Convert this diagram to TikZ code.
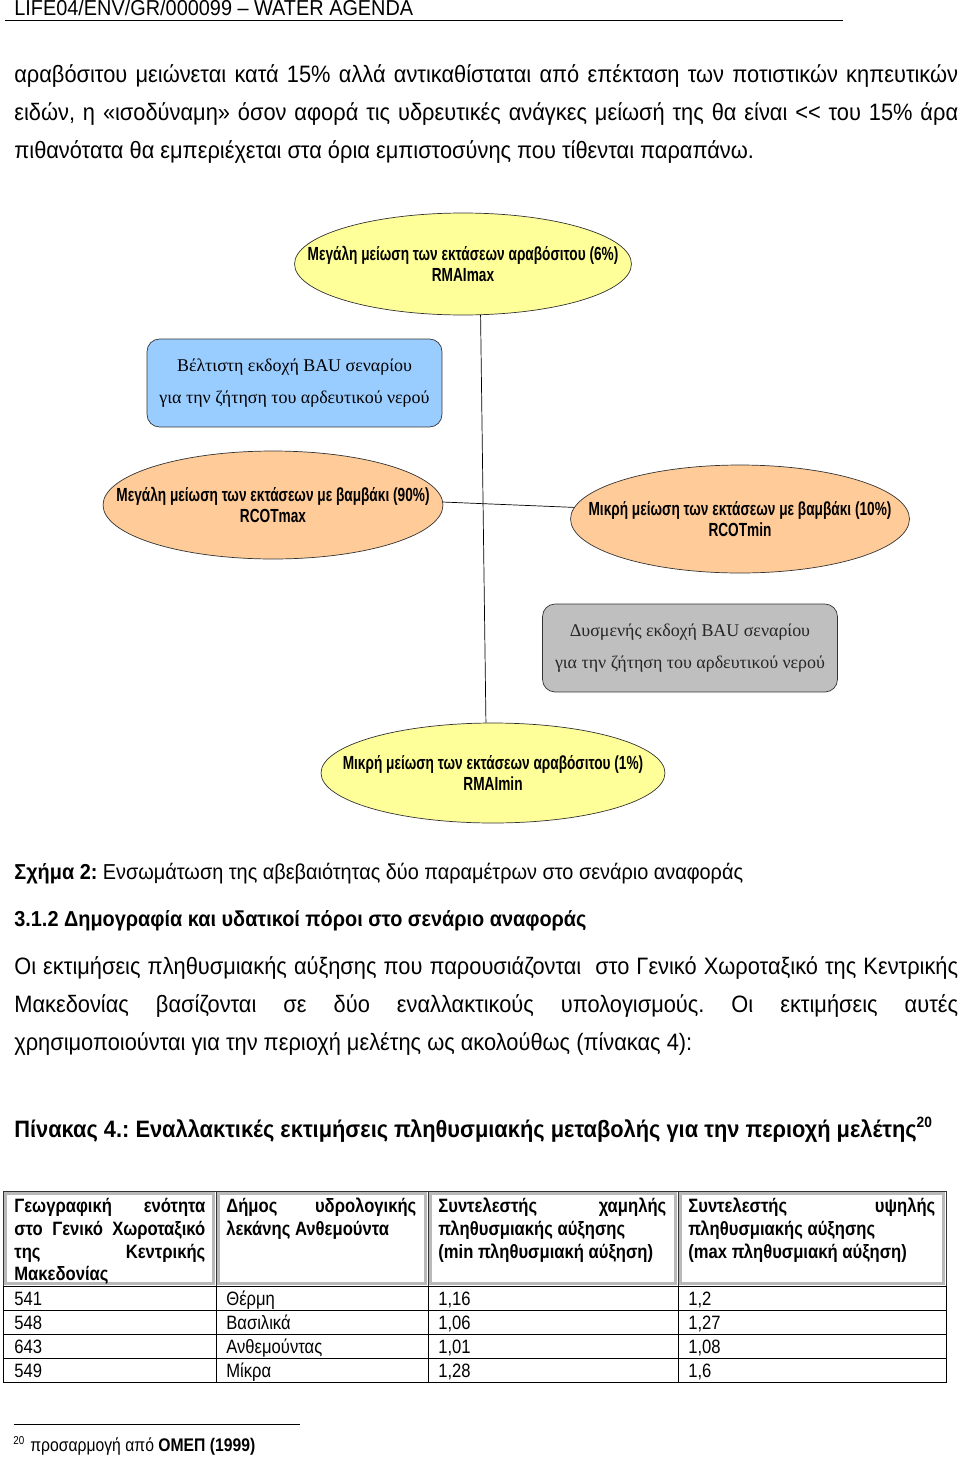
\documentclass[tikz,border=0pt]{standalone}
\usepackage{fontspec}
\setmainfont{Liberation Sans}[FakeStretch=0.92]
\newfontfamily\tabfont{Liberation Sans}[FakeStretch=0.86]
\newfontfamily\condfont{Liberation Sans}[FakeStretch=0.72]
\newfontfamily\boxfont{Liberation Serif}
\usetikzlibrary{shapes.geometric}
\definecolor{maizeyellow}{HTML}{FFFF99}
\definecolor{cottonorange}{HTML}{FFCC99}
\definecolor{bestblue}{HTML}{99CCFF}
\definecolor{worstgray}{HTML}{BFBFBF}
\newcommand{\jline}[2]{\makebox[#1][s]{#2}}
\newcommand{\bodyfont}{\fontsize{13.5}{16}\selectfont}
\frenchspacing

\begin{document}
\begin{tikzpicture}[x=0.02cm, y=-0.02cm,
    txt/.style={anchor=base west, inner sep=0pt, font=\bodyfont},
    thead/.style={anchor=base west, inner sep=0pt, font=\tabfont\fontsize{11}{13}\selectfont\bfseries},
    cell/.style={anchor=base west, inner sep=0pt, font=\tabfont\fontsize{11}{13}\selectfont},
    ellshape/.style={ellipse, draw=black!80, thin, inner sep=0pt},
    elltext/.style={align=center, inner sep=0pt, font=\condfont\bfseries\fontsize{10.8}{12}\selectfont},
    bausbox/.style={rectangle, rounded corners=0.25cm, draw=black!80, thin, align=center,
        minimum width=5.9cm, minimum height=1.76cm, font=\boxfont\fontsize{10.2}{18}\selectfont}]
    \useasboundingbox (0,0) rectangle (960,1457);

    % page header
    \node[anchor=base west, inner sep=0pt, font=\fontsize{12.3}{14}\selectfont] (hdr) at (14,15)
        {LIFE04/ENV/GR/000099 -- WATER AGENDA};
    \draw[thin] (5,20) -- (843,20);

    % text above the figure
    \node[txt] (p1a) at (14,82) {\jline{18.88cm}{αραβόσιτου μειώνεται κατά 15\% αλλά αντικαθίσταται από επέκταση των ποτιστικών κηπευτικών}};
    \node[txt] (p1b) at (14,120) {\jline{18.88cm}{ειδών, η «ισοδύναμη» όσον αφορά τις υδρευτικές ανάγκες μείωσή της θα είναι <{}< του 15\% άρα}};
    \node[txt] (p1c) at (14,158) {πιθανότατα θα εμπεριέχεται στα όρια εμπιστοσύνης που τίθενται παραπάνω.};

    % figure 2
    \node[ellshape, fill=maizeyellow, minimum width=6.74cm, minimum height=2.04cm] (rmax) at (463,264) {};
    \node[elltext] (rmaxtxt) at (rmax) {Μεγάλη μείωση των εκτάσεων αραβόσιτου (6\%)\\RMAImax};

    \node[bausbox, fill=bestblue] (best) at (294.5,383)
        {Βέλτιστη εκδοχή BAU σεναρίου\\για την ζήτηση του αρδευτικού νερού};

    \node[ellshape, fill=cottonorange, minimum width=6.8cm, minimum height=2.16cm] (rcmax) at (273,505) {};
    \node[elltext] (rcmaxtxt) at (rcmax) {Μεγάλη μείωση των εκτάσεων με βαμβάκι (90\%)\\RCOTmax};

    \node[ellshape, fill=cottonorange, minimum width=6.78cm, minimum height=2.16cm] (rcmin) at (740,519) {};
    \node[elltext] (rcmintxt) at (rcmin) {Μικρή μείωση των εκτάσεων με βαμβάκι (10\%)\\RCOTmin};

    \node[bausbox, fill=worstgray, text=black!85] (worst) at (690,648)
        {Δυσμενής εκδοχή BAU σεναρίου\\για την ζήτηση του αρδευτικού νερού};

    \node[ellshape, fill=maizeyellow, minimum width=6.88cm, minimum height=2cm] (rmin) at (493,773) {};
    \node[elltext] (rmintxt) at (rmin) {Μικρή μείωση των εκτάσεων αραβόσιτου (1\%)\\RMAImin};

    \draw[thin] (rmax.-71) -- (rmin.98);
    \draw[thin] (rcmax.1) -- (rcmin.176);

    % caption and section
    \node[txt, font=\fontsize{12.3}{14}\selectfont] (figcap) at (14,879) {\textbf{Σχήμα 2:} Ενσωμάτωση της αβεβαιότητας δύο παραμέτρων στο σενάριο αναφοράς};
    \node[txt, font=\fontsize{12.3}{14}\selectfont\bfseries] (sect) at (14,926) {3.1.2 Δημογραφία και υδατικοί πόροι στο σενάριο αναφοράς};
    \node[txt] (p2a) at (14,974) {\jline{18.88cm}{Οι εκτιμήσεις πληθυσμιακής αύξησης που παρουσιάζονται \ στο Γενικό Χωροταξικό της Κεντρικής}};
    \node[txt] (p2b) at (14,1012) {\jline{18.88cm}{Μακεδονίας βασίζονται σε δύο εναλλακτικούς υπολογισμούς. Οι εκτιμήσεις αυτές}};
    \node[txt] (p2c) at (14,1050) {χρησιμοποιούνται για την περιοχή μελέτης ως ακολούθως (πίνακας 4):};

    \node[txt, font=\fontsize{13.5}{16}\selectfont\bfseries] (tabcap) at (14,1137)
        {Πίνακας 4.: Εναλλακτικές εκτιμήσεις πληθυσμιακής μεταβολής για την περιοχή μελέτης\textsuperscript{\fontsize{8.5}{9}\selectfont 20}};

    % table 4
    \foreach \xl/\xr in {3/216, 216/428, 428/678, 678/946} {
        \draw[gray!55, line width=0.05cm] (\xl+2.5,1193.5) rectangle (\xr-2.5,1283.5);
        \draw[black!80, thin] (\xl,1191) rectangle (\xr,1286);
    }
    \draw[thin] (3,1286) rectangle (946,1382);
    \foreach \yy in {1310,1334,1358}
        \draw[thin] (3,\yy) -- (946,\yy);
    \foreach \xx in {216,428,678}
        \draw[thin] (\xx,1286) -- (\xx,1382);

    \node[thead] (h1a) at (14,1212) {\jline{3.82cm}{Γεωγραφική ενότητα}};
    \node[thead] (h1b) at (14,1235) {\jline{3.82cm}{στο Γενικό Χωροταξικό}};
    \node[thead] (h1c) at (14,1258) {\jline{3.82cm}{της Κεντρικής}};
    \node[thead] (h1d) at (14,1280) {Μακεδονίας};
    \node[thead] (h2a) at (226,1212) {\jline{3.8cm}{Δήμος υδρολογικής}};
    \node[thead] (h2b) at (226,1235) {λεκάνης Ανθεμούντα};
    \node[thead] (h3a) at (438,1212) {\jline{4.56cm}{Συντελεστής χαμηλής}};
    \node[thead] (h3b) at (438,1235) {πληθυσμιακής αύξησης};
    \node[thead] (h3c) at (438,1258) {(min πληθυσμιακή αύξηση)};
    \node[thead] (h4a) at (688,1212) {\jline{4.94cm}{Συντελεστής υψηλής}};
    \node[thead] (h4b) at (688,1235) {πληθυσμιακής αύξησης};
    \node[thead] (h4c) at (688,1258) {(max πληθυσμιακή αύξηση)};

    \foreach \geo/\dimos/\lo/\hi [count=\i] in {541/Θέρμη/{1,16}/{1,2}, 548/Βασιλικά/{1,06}/{1,27},
            643/Ανθεμούντας/{1,01}/{1,08}, 549/Μίκρα/{1,28}/{1,6}} {
        \pgfmathsetmacro{\yb}{1305+24*(\i-1)}
        \node[cell] (geo\i) at (14,\yb) {\geo};
        \node[cell] (dim\i) at (226,\yb) {\dimos};
        \node[cell] (lo\i) at (438,\yb) {\lo};
        \node[cell] (hi\i) at (688,\yb) {\hi};
    }

    % footnote
    \draw[thin] (14,1424) -- (300,1424);
    \node[anchor=base west, inner sep=0pt, font=\tabfont\fontsize{6.5}{8}\selectfont] (fnmark) at (13,1444) {20};
    \node[anchor=base west, inner sep=0pt, font=\tabfont\fontsize{10.4}{12}\selectfont] (fntext) at (30,1451)
        {προσαρμογή από \textbf{ΟΜΕΠ (1999)}};
\end{tikzpicture}
\end{document}
